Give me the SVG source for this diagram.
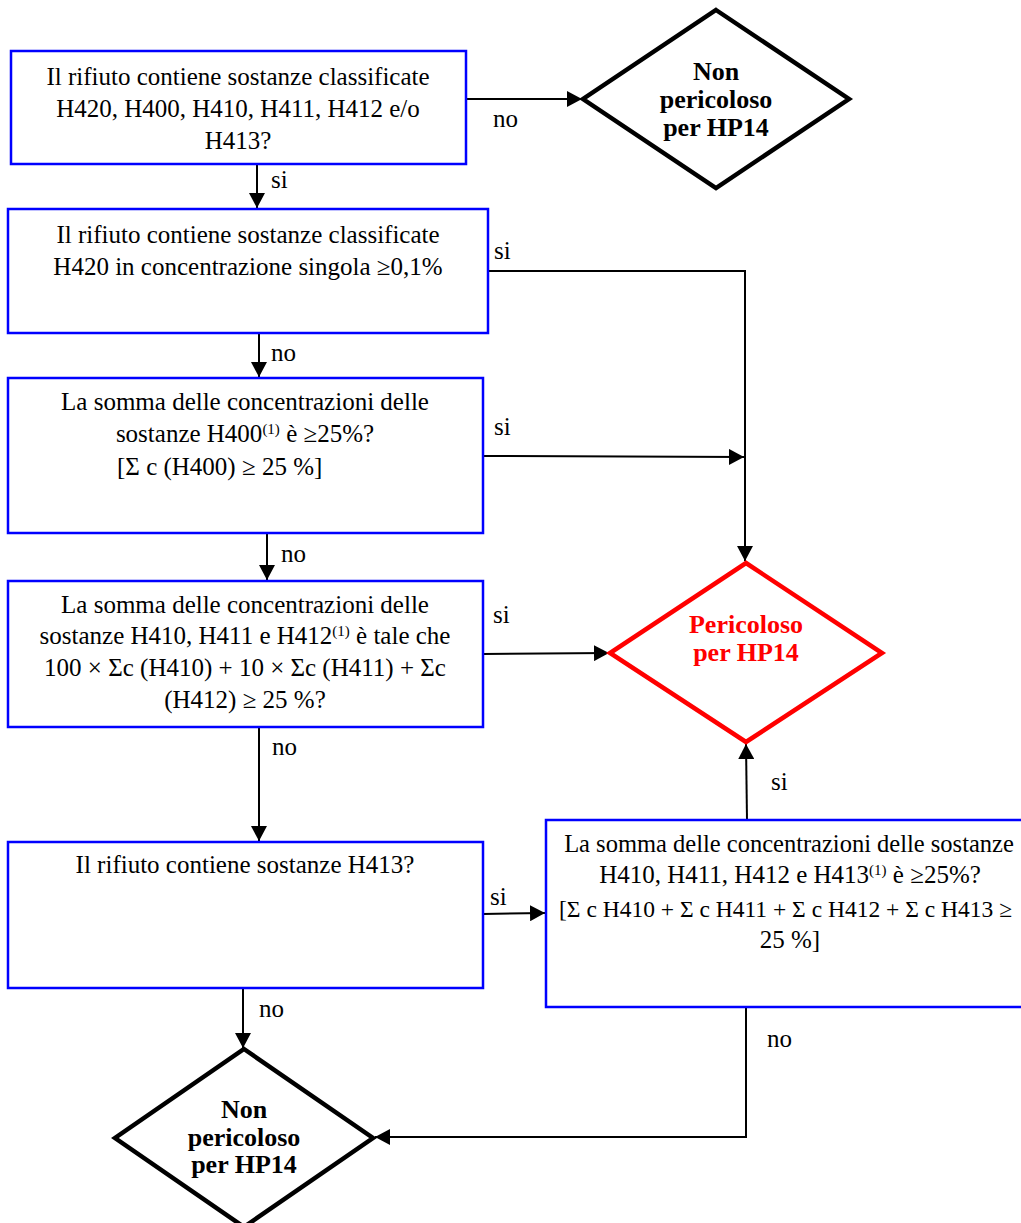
<svg xmlns="http://www.w3.org/2000/svg" width="1021" height="1223" viewBox="0 0 1021 1223">
<defs>
<style>
text{font-family:"Liberation Serif","Times New Roman",serif;font-size:25px;fill:#000}
.c{text-anchor:middle}
.b{font-weight:bold;font-size:26px}
.r{fill:#ff0000}
.sup{font-size:15px}
.box{fill:#fff;stroke:#0000ff;stroke-width:2.5}
.dk{fill:#fff;stroke:#000;stroke-width:4.5;stroke-linejoin:miter}
.dr{fill:#fff;stroke:#ff0000;stroke-width:4.5;stroke-linejoin:miter}
.ln{fill:none;stroke:#000;stroke-width:2}
.arr{marker-end:url(#ah)}
</style>
<marker id="ah" markerUnits="userSpaceOnUse" markerWidth="16" markerHeight="16" refX="15" refY="8" orient="auto">
<path d="M0,0 L15,8 L0,16 Z" fill="#000"/>
</marker>
</defs>
<rect width="1021" height="1223" fill="#fff"/>

<g id="connectors">
<line class="ln arr" x1="466" y1="99" x2="582" y2="99"/>
<line class="ln arr" x1="257" y1="164" x2="257" y2="208"/>
<line class="ln arr" x1="259" y1="333" x2="259" y2="377"/>
<polyline class="ln arr" points="488,271 745,271 745,561"/>
<line class="ln arr" x1="483" y1="456" x2="744" y2="457"/>
<line class="ln arr" x1="267" y1="533" x2="267" y2="580"/>
<line class="ln arr" x1="483" y1="654" x2="609" y2="653"/>
<line class="ln arr" x1="259" y1="727" x2="259" y2="841"/>
<line class="ln arr" x1="483" y1="914" x2="545" y2="913"/>
<line class="ln arr" x1="747" y1="820" x2="746" y2="744"/>
<line class="ln arr" x1="243" y1="988" x2="243" y2="1048"/>
<polyline class="ln arr" points="746,1007 746,1137 375,1137"/>
<text x="493" y="127">no</text>
<text x="271" y="188">si</text>
<text x="494" y="259">si</text>
<text x="271" y="361">no</text>
<text x="494" y="435">si</text>
<text x="281" y="562">no</text>
<text x="493" y="623">si</text>
<text x="272" y="755">no</text>
<text x="490" y="905">si</text>
<text x="771" y="790">si</text>
<text x="259" y="1017">no</text>
<text x="767" y="1047">no</text>
</g>

<g id="q1">
<rect class="box" x="11" y="51" width="455" height="113"/>
<text class="c" x="238" y="85">Il rifiuto contiene sostanze classificate</text>
<text class="c" x="238" y="117">H420, H400, H410, H411, H412 e/o</text>
<text class="c" x="238" y="149">H413?</text>
</g>

<g id="nonpericoloso1">
<polygon class="dk" points="716,10 849,99 716,188 583,99"/>
<text class="c b" x="716" y="80">Non</text>
<text class="c b" x="716" y="108">pericoloso</text>
<text class="c b" x="716" y="136">per HP14</text>
</g>

<g id="q2">
<rect class="box" x="8" y="209" width="480" height="124"/>
<text class="c" x="248" y="243">Il rifiuto contiene sostanze classificate</text>
<text class="c" x="248" y="275">H420 in concentrazione singola ≥0,1%</text>
</g>

<g id="q3">
<rect class="box" x="8" y="378" width="475" height="155"/>
<text class="c" x="245" y="410">La somma delle concentrazioni delle</text>
<text class="c" x="245" y="442">sostanze H400<tspan class="sup" dy="-8">(1)</tspan><tspan dy="8"> è ≥25%?</tspan></text>
<text x="117" y="475">[Σ c (H400) ≥ 25 %]</text>
</g>

<g id="q4">
<rect class="box" x="8" y="581" width="475" height="146"/>
<text class="c" x="245" y="613">La somma delle concentrazioni delle</text>
<text class="c" x="245" y="644">sostanze H410, H411 e H412<tspan class="sup" dy="-8">(1)</tspan><tspan dy="8"> è tale che</tspan></text>
<text class="c" x="245" y="676">100 × Σc (H410) + 10 × Σc (H411) + Σc</text>
<text class="c" x="245" y="708">(H412) ≥ 25 %?</text>
</g>

<g id="pericoloso">
<polygon class="dr" points="746,563 882,653 746,742 610,653"/>
<text class="c b r" x="746" y="633">Pericoloso</text>
<text class="c b r" x="746" y="661">per HP14</text>
</g>

<g id="q5">
<rect class="box" x="8" y="842" width="475" height="146"/>
<text class="c" x="245" y="873">Il rifiuto contiene sostanze H413?</text>
</g>

<g id="q6">
<rect class="box" x="546" y="820" width="490" height="187"/>
<text class="c" x="789" y="852" style="font-size:24.5px">La somma delle concentrazioni delle sostanze</text>
<text class="c" x="790" y="883">H410, H411, H412 e H413<tspan class="sup" dy="-8">(1)</tspan><tspan dy="8"> è ≥25%?</tspan></text>
<text x="559" y="917" style="font-size:23.5px">[Σ c H410 + Σ c H411 + Σ c H412 + Σ c H413 ≥</text>
<text class="c" x="790" y="948">25 %]</text>
</g>

<g id="nonpericoloso2">
<polygon class="dk" points="244,1049 373,1138 244,1227 115,1138"/>
<text class="c b" x="244" y="1118">Non</text>
<text class="c b" x="244" y="1146">pericoloso</text>
<text class="c b" x="244" y="1173">per HP14</text>
</g>
</svg>
